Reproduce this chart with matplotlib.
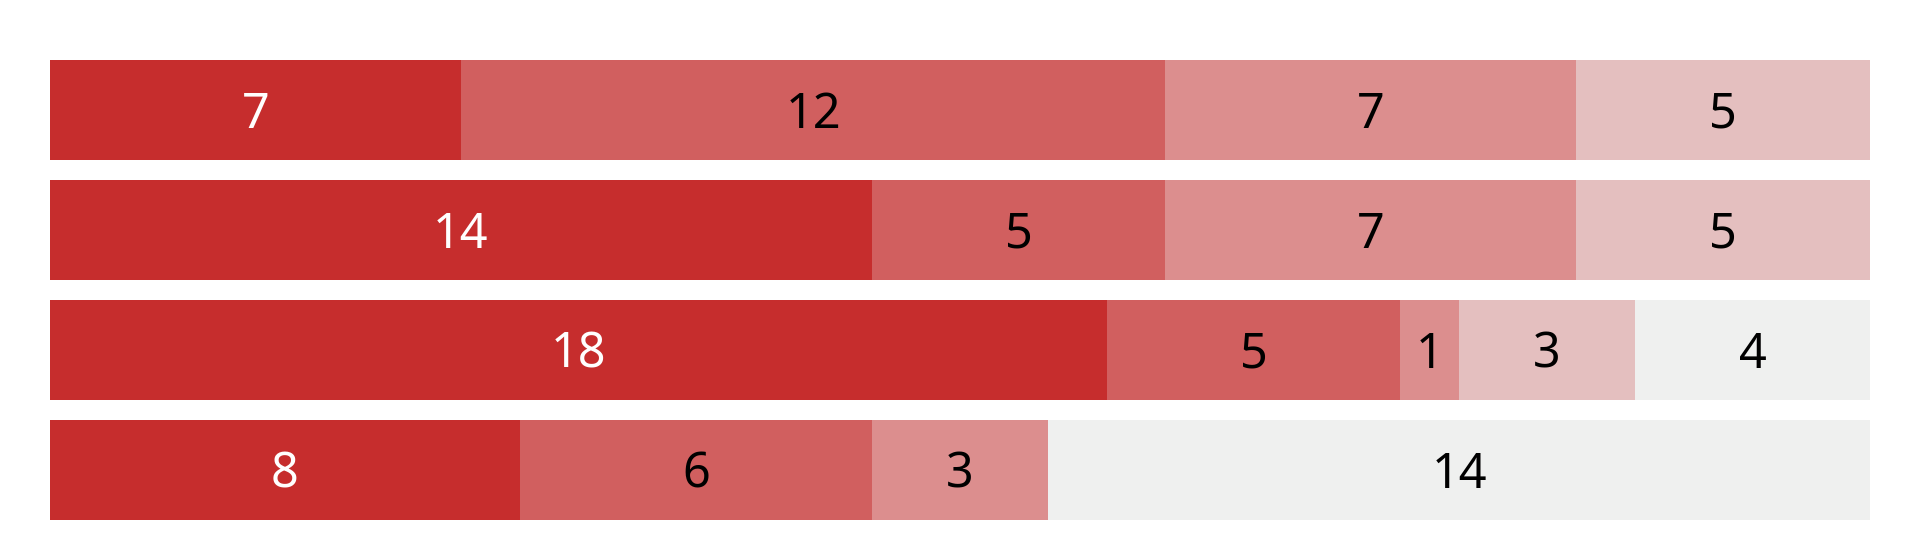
import numpy as np
import matplotlib
matplotlib.use('Agg')
import matplotlib.pyplot as plt

# segment values per row (top to bottom), 5 categories
rows = ['r1', 'r2', 'r3', 'r4']
cat_a = [7, 14, 18, 8]
cat_b = [12, 5, 5, 6]
cat_c = [7, 7, 1, 3]
cat_d = [5, 5, 3, 0]
cat_e = [0, 0, 4, 14]

colors = ['#C62D2D', '#D15F5F', '#DC8E8E', '#E4BFBF', '#EFF0EF']
text_colors = ['white', 'black', 'black', 'black', 'black']

plt.rcParams['font.family'] = ['Noto Sans', 'DejaVu Sans']

fig = plt.figure(figsize=(19.2, 5.4), dpi=100)
ax = fig.add_axes([50 / 1920, 20 / 540, 1820 / 1920, 460 / 540])

bar_h = 100 / 120
y = np.arange(len(rows))
left = np.zeros(len(rows))
for vals, col, tc in zip([cat_a, cat_b, cat_c, cat_d, cat_e], colors, text_colors):
    vals = np.array(vals, dtype=float)
    ax.barh(y, vals, left=left, height=bar_h, color=col, edgecolor='none')
    for yi, (l, v) in enumerate(zip(left, vals)):
        if v > 0:
            # nudge down a bit, axis is inverted
            ax.text(l + v / 2, yi + 0.04, f'{int(v)}', ha='center', va='center',
                    fontsize=35, color=tc)
    left += vals

ax.set_xlim(0, left.max())
ax.set_ylim(len(rows) - 1 + bar_h / 2, -bar_h / 2)
ax.axis('off')

fig.savefig('out.png', dpi=100)
